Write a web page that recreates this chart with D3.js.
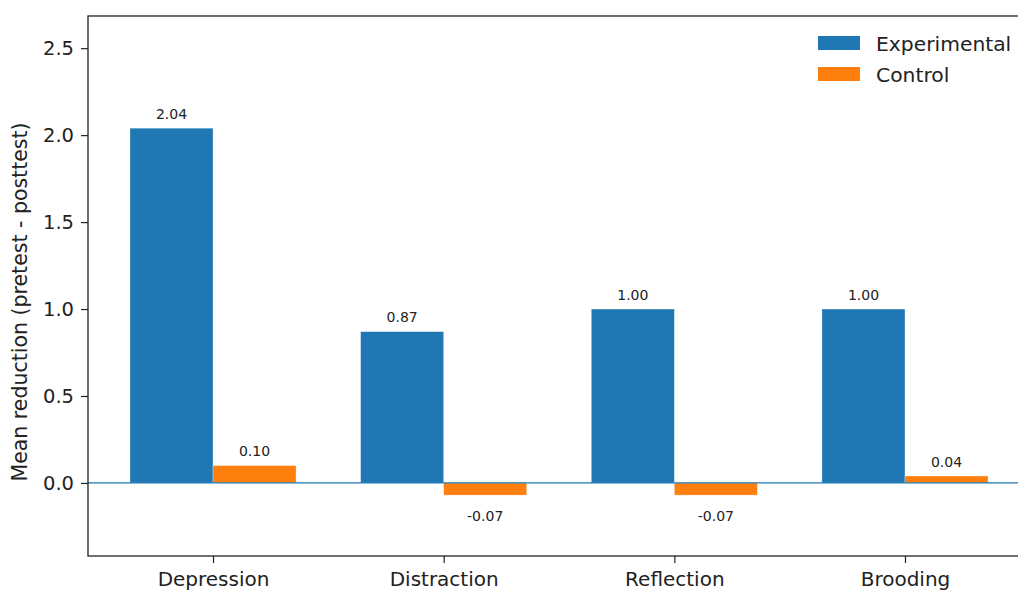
<!DOCTYPE html>
<html>
<head>
<meta charset="utf-8">
<script src="https://cdn.jsdelivr.net/npm/d3@7"></script>
<style>
  html, body { margin: 0; padding: 0; background: #fff; overflow: hidden; }
  svg { display: block; font-family: "DejaVu Sans", sans-serif; }
</style>
</head>
<body>
<svg id="chart" width="1018" height="590"></svg>
<script>
// Outcome measures and mean reductions per group
const categories = ["Depression", "Distraction", "Reflection", "Brooding"];
const experimental = [2.04, 0.87, 1.00, 1.00];
const control = [0.10, -0.07, -0.07, 0.04];
const seriesNames = ["Experimental", "Control"];
const yTicks = [0.0, 0.5, 1.0, 1.5, 2.0, 2.5];

const colors = { Experimental: "#1f77b4", Control: "#ff7f0e" };
const barWidth = 0.36;

const svg = d3.select("#chart");
const margin = { left: 88, top: 16 };
const plotW = 942, plotH = 540;

const x = d3.scaleLinear().domain([-0.542, categories.length - 1 + 0.542])
  .range([margin.left, margin.left + plotW]);
const y = d3.scaleLinear().domain([-0.42, 2.685])
  .range([margin.top + plotH, margin.top]);

const series = [
  { name: "Experimental", values: experimental, offset: -barWidth / 2 },
  { name: "Control", values: control, offset: barWidth / 2 }
];

const g = svg.append("g");

// bars
series.forEach(s => {
  g.selectAll(null).data(s.values).enter().append("rect")
    .attr("x", (d, i) => x(i + s.offset - barWidth / 2))
    .attr("width", (d, i) => x(i + s.offset + barWidth / 2) - x(i + s.offset - barWidth / 2))
    .attr("y", d => y(Math.max(0, d)))
    .attr("height", d => Math.abs(y(d) - y(0)))
    .attr("fill", colors[s.name])
    .attr("stroke", "#fff").attr("stroke-width", 0.6).attr("stroke-opacity", 0.5);

  // value labels
  g.selectAll(null).data(s.values).enter().append("text")
    .attr("x", (d, i) => x(i + s.offset))
    .attr("y", d => d >= 0 ? y(d) - 9.5 : y(d) + 26)
    .attr("text-anchor", "middle")
    .attr("font-size", 14)
    .attr("fill", "#222")
    .text(d => d.toFixed(2));
});

// zero reference line
g.append("line")
  .attr("x1", x.range()[0]).attr("x2", x.range()[1])
  .attr("y1", y(0)).attr("y2", y(0))
  .attr("stroke", colors.Experimental).attr("stroke-width", 1.3);

// y axis
const yAxis = d3.axisLeft(y).tickValues(yTicks).tickFormat(d3.format(".1f"))
  .tickSize(7).tickPadding(7);
const ya = svg.append("g").attr("transform", `translate(${margin.left},0)`).call(yAxis);
ya.select(".domain").remove();
ya.selectAll("text").attr("font-size", 19.5).attr("fill", "#222").attr("font-family", "DejaVu Sans");
ya.selectAll("line").attr("stroke", "#222").attr("stroke-width", 1.2);

// x axis
const xAxis = d3.axisBottom(x).tickValues(categories.map((c, i) => i))
  .tickFormat(i => categories[i]).tickSize(7).tickPadding(9);
const xa = svg.append("g").attr("transform", `translate(0,${margin.top + plotH})`).call(xAxis);
xa.select(".domain").remove();
xa.selectAll("text").attr("font-size", 20).attr("fill", "#222").attr("font-family", "DejaVu Sans");
xa.selectAll("line").attr("stroke", "#222").attr("stroke-width", 1.2);

// spines
svg.append("rect")
  .attr("x", margin.left).attr("y", margin.top)
  .attr("width", plotW).attr("height", plotH)
  .attr("fill", "none").attr("stroke", "#222").attr("stroke-width", 1.3);

// y axis title
svg.append("text")
  .attr("transform", `translate(27,${margin.top + plotH / 2 + 16}) rotate(-90)`)
  .attr("text-anchor", "middle")
  .attr("font-size", 20.5)
  .attr("fill", "#222")
  .text("Mean reduction (pretest - posttest)");

// legend
const legend = svg.append("g").attr("transform", "translate(818,36)");
seriesNames.forEach((name, i) => {
  const row = legend.append("g").attr("transform", `translate(0,${i * 31})`);
  row.append("rect").attr("width", 42).attr("height", 14).attr("fill", colors[name]);
  row.append("text").attr("x", 58).attr("y", 14.5)
    .attr("font-size", 20.3).attr("fill", "#222").text(name);
});
</script>
</body>
</html>
